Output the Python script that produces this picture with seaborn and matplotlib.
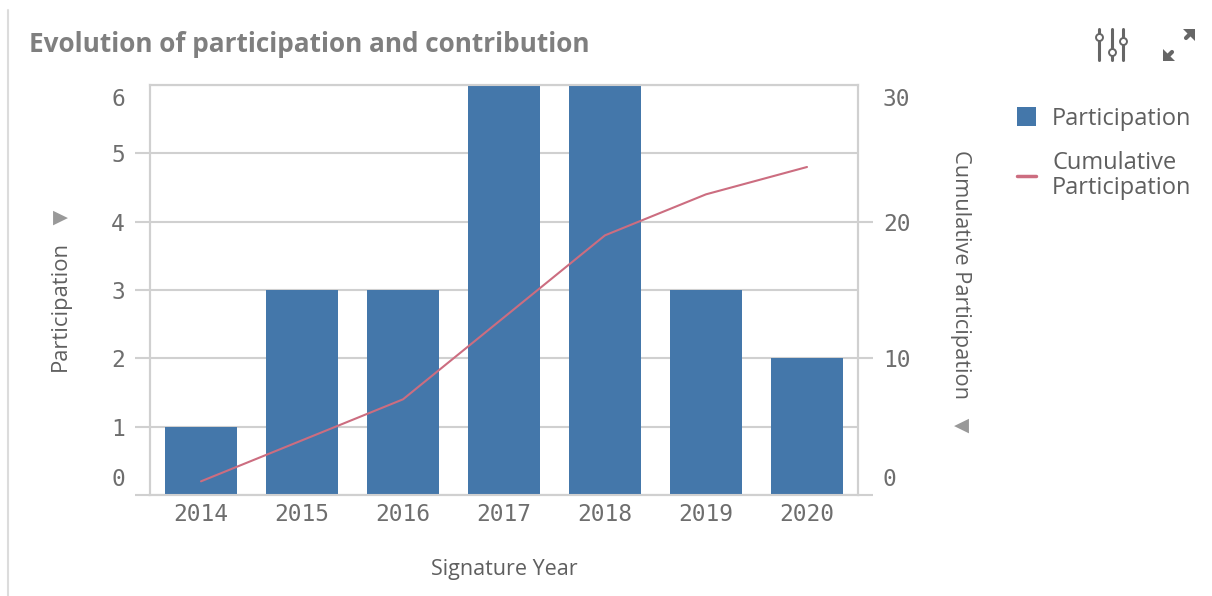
import matplotlib
matplotlib.use("Agg")
import pandas as pd
import seaborn as sns
import matplotlib.pyplot as plt
from matplotlib.lines import Line2D
from matplotlib.patches import Patch, Polygon
from matplotlib.transforms import ScaledTranslation

# values
years = ["2014", "2015", "2016", "2017", "2018", "2019", "2020"]
participation = [1, 3, 3, 6, 6, 3, 2]
cumulative = [1, 4, 7, 13, 19, 22, 24]
left_ticks = [0, 1, 2, 3, 4, 5, 6]
right_ticks = [0, 10, 20, 30]

BLUE = "#4477aa"
RED = "#cc6d80"
GREY = "#5f5f5f"
TICKGREY = "#6e6e6e"
GRID = "#d0d0d0"
ICON = "#666666"
W, H = 1212, 596

sns.set_theme(style="white")
plt.rcParams["font.family"] = ["Open Sans", "DejaVu Sans"]

df = pd.DataFrame({"year": years, "participation": participation, "cumulative": cumulative})

fig = plt.figure(figsize=(W / 100, H / 100), dpi=100)
ax = fig.add_axes([150 / W, 1 - 495 / H, 708 / W, 410 / H])

sns.barplot(data=df, x="year", y="participation", color=BLUE, saturation=1,
            width=0.71, linewidth=0, ax=ax, zorder=3)
ax.set_xlim(-0.505, 6.505)
ax.set_ylim(0, 6)
ax.set_xlabel("")
ax.set_ylabel("")
ax.set_yticks(left_ticks)
ax.yaxis.grid(True, color=GRID, lw=1.5, zorder=0)
ax.set_axisbelow(True)
ax.tick_params(axis="x", length=0, pad=5.5, labelsize=16.5, labelcolor=TICKGREY)
ax.tick_params(axis="y", length=11, width=1.5, color=GRID, pad=7, labelsize=16.5, labelcolor=TICKGREY)
for s in ax.spines.values():
    s.set_color(GRID)
    s.set_linewidth(1.5)

ax2 = ax.twinx()
sns.lineplot(data=df, x="year", y="cumulative", color=RED, lw=1.5, ax=ax2, zorder=5)
ax2.set_ylim(0, 30)
ax2.set_ylabel("")
ax2.set_xlabel("")
ax2.set_yticks(right_ticks)
ax2.tick_params(axis="y", length=11, width=1.5, color=GRID, pad=7, labelsize=16.5, labelcolor=TICKGREY)
for s in ax2.spines.values():
    s.set_color(GRID)
    s.set_linewidth(1.5)

for lab in ax.get_xticklabels() + ax.get_yticklabels() + ax2.get_yticklabels():
    lab.set_fontfamily("DejaVu Sans Mono")


def nudge(lab, dy_px):
    # move a tick label by some pixels (positive is down)
    lab.set_transform(lab.get_transform() + ScaledTranslation(0, -dy_px / 100, fig.dpi_scale_trans))


# top and bottom labels sit inside the axis range, top ticks have no stub
for a, tick_line in [(ax, "tick1line"), (ax2, "tick2line")]:
    labs = a.get_yticklabels()
    labs[0].set_va("bottom")
    labs[-1].set_va("top")
    nudge(labs[0], -4)
    nudge(labs[-1], 3)
    getattr(a.yaxis.get_major_ticks()[-1], tick_line).set_visible(False)


def px(x, y):
    return x / W, 1 - y / H


# left border of the card
fig.add_artist(Line2D([8 / W, 8 / W], [0, 1 - 10 / H], color="#dcdcdc", lw=1.5))

fig.text(*px(29, 45), "Evolution of participation and contribution", fontsize=18.8,
         fontweight="bold", color="#7f7f7f", va="center", ha="left")
fig.text(*px(504, 570), "Signature Year", fontsize=15.5, color=GREY, va="center", ha="center")
fig.text(*px(60, 306), "Participation", fontsize=15.8, color=GREY, rotation=90, va="center", ha="center")
fig.text(*px(961, 275), "Cumulative Participation", fontsize=15.7, color=GREY, rotation=270,
         va="center", ha="center")

# little axis arrows
fig.text(*px(60, 217), "\u25b6", fontsize=14, color="#999999", va="center", ha="center",
         family="DejaVu Sans")
fig.text(*px(961, 425), "\u25c0", fontsize=14, color="#999999", va="center", ha="center",
         family="DejaVu Sans")

# legend
handles = [Patch(facecolor=BLUE, edgecolor="none"), Line2D([], [], color=RED, lw=2.5)]
leg = fig.legend(handles, ["Participation", "Cumulative\nParticipation"], loc="upper left",
                 bbox_to_anchor=(1010 / W, 1 - 100 / H), frameon=False, fontsize=17,
                 labelcolor=GREY, handlelength=0.8, handleheight=0.85, handletextpad=0.68,
                 labelspacing=0.85, borderpad=0.3, borderaxespad=0)
for t in leg.get_texts():
    t.set_linespacing(1.05)

# toolbar icons: sliders
for x, yk in [(1099, 37), (1112, 52), (1123, 41)]:
    fig.add_artist(Line2D([x / W] * 2, [1 - 29 / H, 1 - 60 / H], color=ICON, lw=2.2))
    fig.add_artist(Line2D([x / W], [1 - yk / H], marker="o", ms=5, mfc="white", mec=ICON,
                          mew=1.4, color="none"))
# toolbar icons: expand arrows
for line, head in [([(1186, 38), (1193, 31)], [(1183, 29), (1195, 29), (1195, 41)]),
                   ([(1172, 52), (1165, 59)], [(1163, 49), (1163, 61), (1175, 61)])]:
    fig.add_artist(Line2D(*zip(*[px(*p) for p in line]), color=ICON, lw=3))
    fig.add_artist(Polygon([px(*p) for p in head], closed=True, facecolor=ICON, edgecolor="none",
                           transform=fig.transFigure))

fig.savefig("out.png", dpi=100)
